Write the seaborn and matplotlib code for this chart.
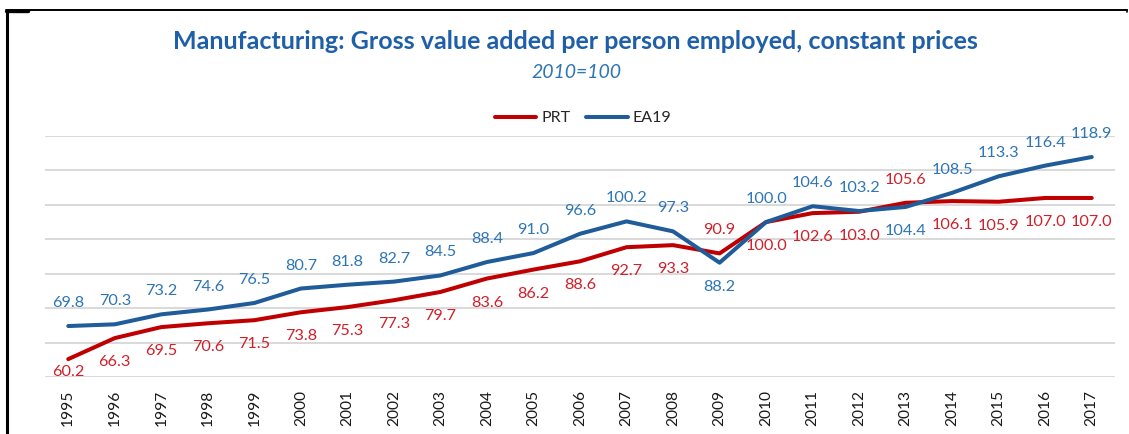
import matplotlib
matplotlib.use("Agg")
import matplotlib.pyplot as plt
from matplotlib.lines import Line2D
import seaborn as sns
import pandas as pd

years = list(range(1995, 2018))
prt = [60.2, 66.3, 69.5, 70.6, 71.5, 73.8, 75.3, 77.3, 79.7, 83.6, 86.2, 88.6,
       92.7, 93.3, 90.9, 100.0, 102.6, 103.0, 105.6, 106.1, 105.9, 107.0, 107.0]
ea19 = [69.8, 70.3, 73.2, 74.6, 76.5, 80.7, 81.8, 82.7, 84.5, 88.4, 91.0, 96.6,
        100.2, 97.3, 88.2, 100.0, 104.6, 103.2, 104.4, 108.5, 113.3, 116.4, 118.9]
series_names = ["PRT", "EA19"]
title = "Manufacturing: Gross value added per person employed, constant prices"
subtitle = "2010=100"

df = pd.DataFrame({
    "year": years * 2,
    "value": prt + ea19,
    "series": [series_names[0]] * len(years) + [series_names[1]] * len(years),
})

sns.set_theme(style="white")
plt.rcParams["font.family"] = ["Lato", "DejaVu Sans"]

W, H = 1129, 434
fig = plt.figure(figsize=(W / 100, H / 100), dpi=100)
ax = fig.add_axes([45 / W, 57 / H, (1115 - 45) / W, (377 - 136) / H])

line_colors = {"PRT": "#C00000", "EA19": "#1F5C99"}
label_colors = {"PRT": "#D0202A", "EA19": "#2E75B6"}

sns.lineplot(data=df, x="year", y="value", hue="series", palette=line_colors,
             linewidth=2.9, ax=ax, legend=False, zorder=3)

ax.set_xlim(years[0] - 0.5, years[-1] + 0.5)
ax.set_ylim(55, 125)
ax.set_yticks(range(55, 126, 10))
ax.set_yticklabels([])
ax.grid(axis="y", color="#D9D9D9", linewidth=1.4)
ax.grid(axis="x", visible=False)
for s in ax.spines.values():
    s.set_visible(False)
ax.set_xticks(years)
ax.set_xticklabels([str(y) for y in years], rotation=90, fontsize=11.2,
                   color="#1A1A1A")
ax.tick_params(axis="x", length=0, pad=9)
ax.tick_params(axis="y", length=0)
ax.set_xlabel("")
ax.set_ylabel("")

# data labels
fig.canvas.draw()
ax_bottom = ax.get_window_extent().y0
for i, yr in enumerate(years):
    for name, vals, other in (("PRT", prt, ea19), ("EA19", ea19, prt)):
        v = vals[i]
        o = other[i]
        if name == "EA19":
            above = v >= o
        else:
            above = v > o
        px, py = ax.transData.transform((yr, v))
        ly = py + 23 if above else py - 24
        ly = max(ly, ax_bottom + 5)
        dx, dy = ax.transData.inverted().transform((px, ly))
        ax.text(yr, dy, f"{v:.1f}", ha="center", va="center", fontsize=11.7,
                color=label_colors[name], zorder=4, clip_on=False)

# title, subtitle
fig.text(575 / W, (H - 49) / H, title, ha="center", va="baseline",
         fontsize=18, fontweight="bold", color="#1F5FA8")
fig.text(576 / W, (H - 72) / H, subtitle, ha="center", va="center",
         fontsize=14, style="italic", color="#2E75B6")

# legend
handles = [Line2D([0], [0], color=line_colors[n], linewidth=2.9) for n in series_names]
fig.legend(handles, series_names, loc="center", bbox_to_anchor=(583 / W, (H - 118) / H),
           ncol=2, frameon=False, fontsize=11.5, handlelength=2.6,
           handletextpad=0.3, columnspacing=1.0, labelcolor="#262626")

# border lines (screenshot frame)
fig.add_artist(Line2D([6 / W, 1127 / W], [(H - 9.5) / H] * 2, color="black",
                      linewidth=1.4, transform=fig.transFigure))
fig.add_artist(Line2D([6 / W, 28 / W], [(H - 10.5) / H] * 2, color="black",
                      linewidth=2.4, transform=fig.transFigure))
fig.add_artist(Line2D([7 / W, 7 / W], [0, (H - 9.5) / H], color="black",
                      linewidth=2.2, transform=fig.transFigure))
fig.add_artist(Line2D([1127 / W, 1127 / W], [(H - 9.5) / H, (H - 12) / H], color="black",
                      linewidth=1.2, transform=fig.transFigure))

fig.savefig("out.png", dpi=100)
